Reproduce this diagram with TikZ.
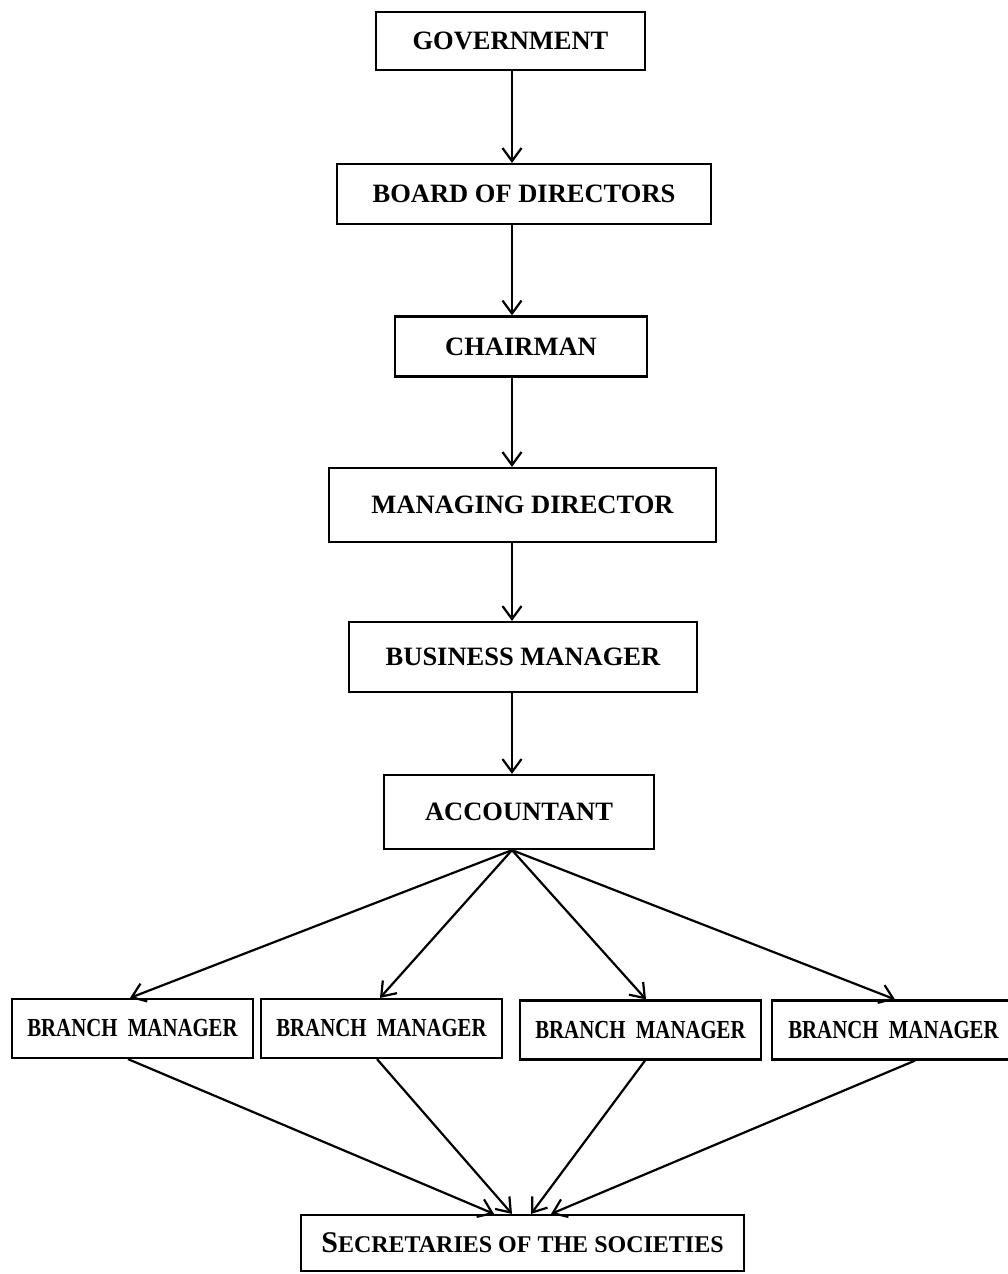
\documentclass[tikz,border=0pt]{standalone}
\usepackage{fontspec}
\setmainfont{Liberation Serif}
\newfontfamily\narrowserif{Liberation Serif}[FakeStretch=0.8]
\usetikzlibrary{arrows.meta}
\tikzset{
  box/.style={draw, line width=2.2pt, inner sep=0pt, align=center,
    font=\bfseries\fontsize{26.5}{30}\selectfont},
  brbox/.style={box, minimum height=59pt,
    font=\narrowserif\bfseries\fontsize{26}{30}\selectfont},
  arr/.style={line width=2.2pt, -{Straight Barb[length=13pt,width=19pt,line width=2.2pt]}}
}
\begin{document}
\begin{tikzpicture}[x=1pt,y=-1pt]
\clip (0,0) rectangle (1008,1274);
\useasboundingbox (0,0) rectangle (1008,1274);
\coordinate (spine) at (512,0);
\node[box, minimum width=269pt, minimum height=58pt] (gov) at (510.5,41) {GOVERNMENT};
\node[box, minimum width=374pt, minimum height=60pt] (board) at (524,194) {BOARD OF DIRECTORS};
\node[box, minimum width=252pt, minimum height=60pt] (chair) at (521,346.5) {CHAIRMAN};
\node[box, minimum width=387pt, minimum height=74pt] (md) at (522.5,505) {MANAGING DIRECTOR};
\node[box, minimum width=348pt, minimum height=70pt] (bm) at (523,657) {BUSINESS MANAGER};
\node[box, minimum width=270pt, minimum height=74pt] (acc) at (519,812) {ACCOUNTANT};
\node[brbox, minimum width=241pt] (br1) at (132.5,1028.5) {BRANCH\hspace{0.2em} MANAGER};
\node[brbox, minimum width=241pt] (br2) at (381.5,1028.5) {BRANCH\hspace{0.2em} MANAGER};
\node[brbox, minimum width=241pt] (br3) at (640.5,1030) {BRANCH\hspace{0.2em} MANAGER};
\node[brbox, minimum width=243pt] (br4) at (893.5,1030) {BRANCH\hspace{0.2em} MANAGER};
\node[box, minimum width=443pt, minimum height=56pt] (sec) at (522.5,1243)
  {\raisebox{-5pt}{{\fontsize{30}{32}\selectfont S}{\fontsize{24}{28}\selectfont ECRETARIES OF THE SOCIETIES}}};
\draw[arr] (gov.south -| spine) -- (board.north -| spine);
\draw[arr] (board.south -| spine) -- (chair.north -| spine);
\draw[arr] (chair.south -| spine) -- (md.north -| spine);
\draw[arr] (md.south -| spine) -- (bm.north -| spine);
\draw[arr] (bm.south -| spine) -- (acc.north -| spine);
\coordinate (apex) at (acc.south -| spine);
\draw[arr] (apex) -- ([xshift=-2.5pt]br1.north);
\draw[arr] (apex) -- ([xshift=-1.5pt]br2.north);
\draw[arr] (apex) -- ([xshift=5.5pt]br3.north);
\draw[arr] (apex) -- ([xshift=1.5pt]br4.north);
\draw[arr] ([xshift=-4.5pt]br1.south) -- ([xshift=-28.5pt]sec.north);
\draw[arr] ([xshift=-4.5pt]br2.south) -- ([xshift=-10.5pt]sec.north);
\draw[arr] ([xshift=4.5pt]br3.south) -- ([xshift=8.5pt]sec.north);
\draw[arr] ([xshift=21.5pt]br4.south) -- ([xshift=28.5pt]sec.north);
\end{tikzpicture}
\end{document}
